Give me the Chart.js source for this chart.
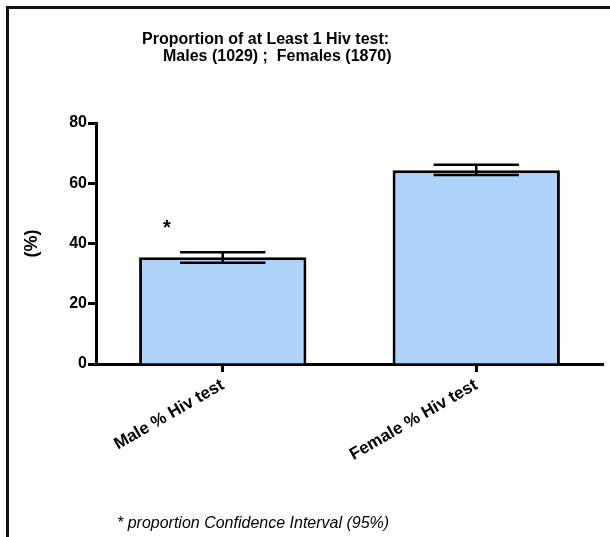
<!DOCTYPE html>
<html>
<head>
<meta charset="utf-8">
<title>Proportion of at Least 1 Hiv test</title>
<script src="https://cdn.jsdelivr.net/npm/chart.js@4.4.1/dist/chart.umd.min.js"></script>
<style>
  body { margin: 0; background: #fff; }
  #wrap { position: relative; width: 610px; height: 537px; }
  #marco { position: absolute; left: 6px; top: 6px; right: 0; bottom: 0; border-top: 3px solid #111; border-left: 3px solid #111; pointer-events: none; }
</style>
</head>
<body>
<div id="wrap">
  <canvas id="hivChart" width="610" height="537"></canvas>
  <div id="marco"></div>
</div>
<script>
// Datos
const categorias = ['Male % Hiv test', 'Female % Hiv test'];
const porcentajes = [35.4, 64.3];
const icBajo = [33.6, 62.7];
const icAlto = [37.1, 66.1];
const asterisco = [46.5, null];
const ticksY = [0, 20, 40, 60, 80];
const titulo = ['Proportion of at Least 1 Hiv test:', 'Males (1029) ;  Females (1870)'];
const nota = '* proportion Confidence Interval (95%)';

const fuente = "'Liberation Sans', Arial, sans-serif";

// Barras de error (IC 95%) y el asterisco sobre la barra de hombres
const barrasError = {
  id: 'barrasError',
  afterDatasetsDraw(chart) {
    const ctx = chart.ctx;
    const y = chart.scales.y;
    chart.getDatasetMeta(0).data.forEach((bar, i) => {
      const half = bar.width * 0.255;
      const yHi = y.getPixelForValue(icAlto[i]);
      const yLo = y.getPixelForValue(icBajo[i]);
      ctx.save();
      ctx.strokeStyle = '#000';
      ctx.lineWidth = 2.5;
      ctx.beginPath();
      ctx.moveTo(bar.x - half, yHi); ctx.lineTo(bar.x + half, yHi);
      ctx.moveTo(bar.x - half, yLo); ctx.lineTo(bar.x + half, yLo);
      ctx.moveTo(bar.x, yHi); ctx.lineTo(bar.x, yLo);
      ctx.stroke();
      if (asterisco[i] != null) {
        ctx.fillStyle = '#000';
        ctx.font = 'bold 20px ' + fuente;
        ctx.textAlign = 'center';
        ctx.textBaseline = 'middle';
        ctx.fillText('*', bar.x - bar.width / 3, y.getPixelForValue(asterisco[i]) + 5);
      }
      ctx.restore();
    });
  }
};

// Título y nota al pie
const textos = {
  id: 'textos',
  afterDraw(chart) {
    const ctx = chart.ctx;
    ctx.save();
    ctx.fillStyle = '#000';
    ctx.textAlign = 'left';
    ctx.textBaseline = 'middle';
    ctx.font = 'bold 16px ' + fuente;
    ctx.fillText(titulo[0], 142, 40);
    ctx.fillText(titulo[1], 163, 57);
    ctx.font = 'italic 16px ' + fuente;
    ctx.fillText(nota, 117, 524);
    ctx.restore();
  }
};

new Chart(document.getElementById('hivChart'), {
  type: 'bar',
  data: {
    labels: categorias,
    datasets: [{
      data: porcentajes,
      backgroundColor: '#afd3f8',
      borderColor: '#000',
      borderWidth: 3,
      borderSkipped: 'bottom',
      barPercentage: 0.66,
      categoryPercentage: 1
    }]
  },
  options: {
    responsive: false,
    animation: false,
    layout: { padding: { top: 123, right: 7, left: 0, bottom: 0 } },
    plugins: {
      legend: { display: false },
      tooltip: { enabled: false }
    },
    scales: {
      x: {
        grid: { drawOnChartArea: false, offset: false, tickLength: 8, tickWidth: 3, tickColor: '#000' },
        border: { color: '#000', width: 3 },
        ticks: {
          maxRotation: 30,
          minRotation: 30,
          color: '#000',
          padding: 3,
          font: { family: fuente, size: 17, weight: 'bold' }
        },
        afterFit: s => { s.height = 173; }
      },
      y: {
        min: 0,
        max: 80,
        afterBuildTicks: s => { s.ticks = ticksY.map(v => ({ value: v })); },
        grid: { drawOnChartArea: false, tickLength: 8, tickWidth: 3, tickColor: '#000' },
        border: { color: '#000', width: 3 },
        ticks: {
          color: '#000',
          padding: 1,
          font: { family: fuente, size: 16, weight: 'bold' }
        },
        title: {
          display: true,
          text: '(%)',
          color: '#000',
          padding: { top: 21, bottom: 0 },
          font: { family: fuente, size: 18, weight: 'bold' }
        },
        afterFit: s => { s.width = 96; }
      }
    }
  },
  plugins: [barrasError, textos]
});
</script>
</body>
</html>
